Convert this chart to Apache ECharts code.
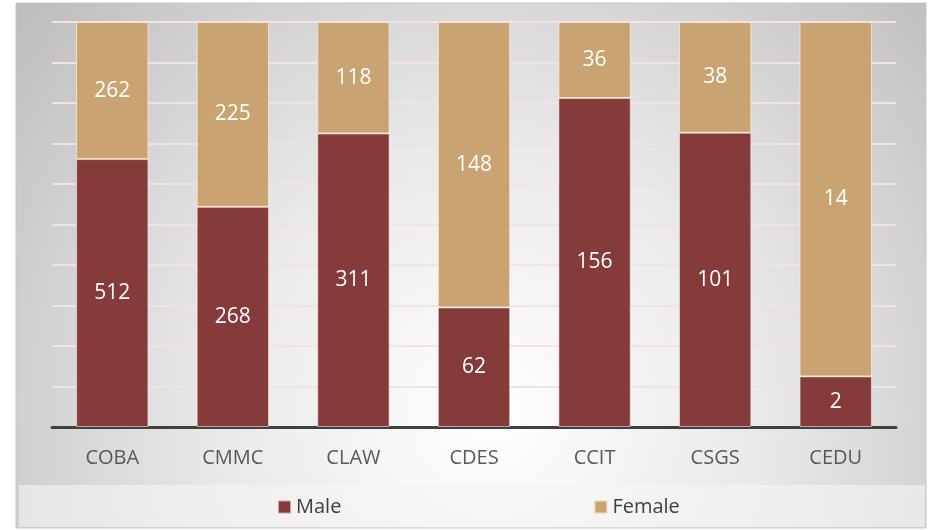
<!DOCTYPE html>
<html>
<head>
<meta charset="utf-8">
<script src="https://cdn.jsdelivr.net/npm/echarts@6/dist/echarts.min.js"></script>
<style>
  html, body { margin: 0; padding: 0; background: #fff; }
  #chart { width: 930px; height: 530px; }
</style>
</head>
<body>
<div id="chart"></div>
<script>
// colleges and head counts
const colleges = ['COBA', 'CMMC', 'CLAW', 'CDES', 'CCIT', 'CSGS', 'CEDU'];
const maleCounts = [512, 268, 311, 62, 156, 101, 2];
const femaleCounts = [262, 225, 118, 148, 36, 38, 14];

// 100% stacked: share of each college total
const totals = colleges.map((c, i) => maleCounts[i] + femaleCounts[i]);
const malePct = maleCounts.map((v, i) => v / totals[i] * 100);
const femalePct = femaleCounts.map((v, i) => v / totals[i] * 100);

const font = '"Open Sans", sans-serif';
const myChart = echarts.init(document.getElementById('chart'));

const option = {
  animation: false,
  textStyle: { fontFamily: font },
  graphic: [
    {
      type: 'rect',
      z: -10,
      shape: { x: 16, y: 3, width: 910, height: 525 },
      style: {
        fill: {
          type: 'radial', x: 0.52, y: 0.78, r: 1.15,
          colorStops: [
            { offset: 0, color: '#ffffff' },
            { offset: 0.45, color: '#e9e9e9' },
            { offset: 1, color: '#bfbfbf' }
          ]
        },
        stroke: '#c6c6c6',
        lineWidth: 1
      }
    },
    {
      type: 'rect',
      z: -9,
      shape: { x: 19, y: 485, width: 906, height: 42 },
      style: { fill: 'rgba(245,245,245,0.6)' }
    }
  ],
  grid: { left: 52, right: 34, top: 22, bottom: 103 },
  legend: {
    bottom: 8,
    left: 272,
    itemWidth: 13,
    itemHeight: 13,
    itemGap: 252,
    icon: 'rect',
    textStyle: { fontSize: 20, color: '#404040', fontFamily: font },
    data: ['Male', 'Female']
  },
  xAxis: {
    type: 'category',
    data: colleges,
    axisLine: { lineStyle: { color: '#404040', width: 3 } },
    axisTick: { show: false },
    axisLabel: { color: '#595959', fontSize: 20, margin: 21, fontFamily: font }
  },
  yAxis: {
    type: 'value',
    min: 0,
    max: 100,
    interval: 10,
    axisLabel: { show: false },
    axisLine: { show: false },
    axisTick: { show: false },
    splitLine: { lineStyle: { color: '#f3e1e4', width: 2 } }
  },
  series: [
    {
      name: 'Male',
      type: 'bar',
      stack: 'total',
      barWidth: '60%',
      data: malePct,
      itemStyle: { color: '#843b3a', borderColor: 'rgba(255,235,235,0.6)', borderWidth: 1 },
      label: {
        show: true,
        position: 'inside',
        color: '#fff',
        fontSize: 21,
        fontFamily: font,
        formatter: p => maleCounts[p.dataIndex]
      }
    },
    {
      name: 'Female',
      type: 'bar',
      stack: 'total',
      barWidth: '60%',
      data: femalePct,
      itemStyle: { color: '#c9a372', borderColor: 'rgba(255,240,225,0.7)', borderWidth: 1 },
      label: {
        show: true,
        position: 'inside',
        color: '#fff',
        fontSize: 21,
        fontFamily: font,
        formatter: p => femaleCounts[p.dataIndex]
      }
    }
  ]
};

option && myChart.setOption(option);
</script>
</body>
</html>
